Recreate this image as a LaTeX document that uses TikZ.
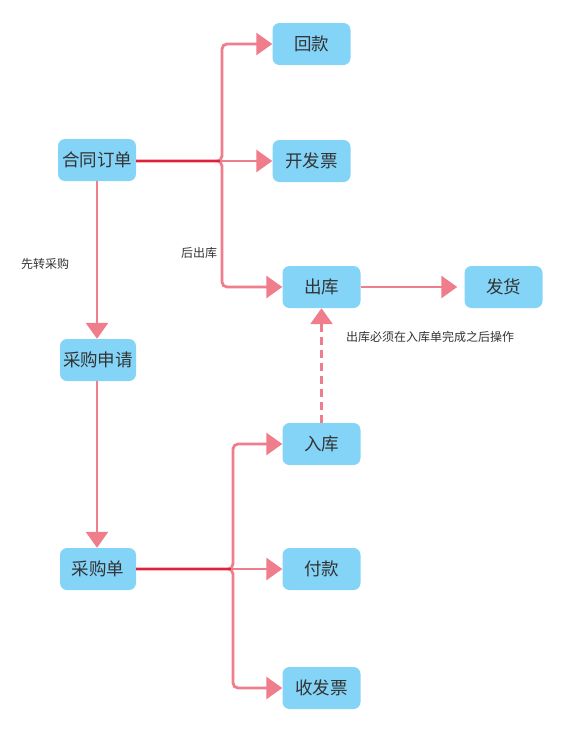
\documentclass[tikz,border=0pt]{standalone}
\usepackage{fontspec}
\newfontfamily\cjk{Noto Sans CJK SC}
\usetikzlibrary{arrows.meta}
\definecolor{boxblue}{HTML}{84D4F8}
\definecolor{pinkline}{HTML}{EF7D8B}
\definecolor{trunkred}{HTML}{E01F3D}
\definecolor{txt}{HTML}{333333}
\begin{document}
\begin{tikzpicture}[x=1pt,y=-1pt,
  box/.style={draw=none,fill=boxblue,rounded corners=7pt,minimum width=78pt,minimum height=42pt,inner sep=0pt,text=txt,font=\cjk\fontsize{17.5}{17.5}\selectfont},
  edge/.style={draw=pinkline,line width=2.8pt,rounded corners=5pt,-{Triangle[length=16pt,width=22pt]}},
  trunk/.style={draw=trunkred,line width=2.8pt},
  lbl/.style={text=txt,font=\cjk\fontsize{12}{12}\selectfont,inner sep=0pt}]
\useasboundingbox (0,0) rectangle (562,729);
% nodes
\node[box] (hetong) at (97,160) {合同订单};
\node[box] (huikuan) at (311.5,44) {回款};
\node[box] (kaifapiao) at (311.5,161) {开发票};
\node[box] (chuku) at (321.5,287) {出库};
\node[box] (fahuo) at (503.5,287) {发货};
\node[box,minimum width=76pt] (shenqing) at (98,360) {采购申请};
\node[box] (ruku) at (321.5,444) {入库};
\node[box,minimum width=76pt] (caigoudan) at (98,569) {采购单};
\node[box] (fukuan) at (321.5,569) {付款};
\node[box] (shoufapiao) at (321.5,688) {收发票};
% junctions
\coordinate (j1) at (222,161);
\coordinate (j2) at (233,569);
% edges from 合同订单
\draw[edge] (hetong.east |- j1) -- (j1) |- (huikuan.west);
\draw[edge] (hetong.east |- j1) -- (kaifapiao.west);
\draw[edge] (hetong.east |- j1) -- (j1) |- (chuku.west);
\draw[trunk] (hetong.east |- j1) -- ([xshift=-2pt]j1);
% edges from 采购单
\draw[edge] (caigoudan.east) -- (j2) |- (ruku.west);
\draw[edge] (caigoudan.east) -- (fukuan.west);
\draw[edge] (caigoudan.east) -- (j2) |- (shoufapiao.west);
\draw[trunk] (caigoudan.east) -- ([xshift=-2pt]j2);
% vertical
\draw[edge] (hetong.south -| 97,0) -- (shenqing.north -| 97,0);
\draw[edge] (shenqing.south -| 97,0) -- (caigoudan.north -| 97,0);
% 出库 -> 发货
\draw[edge,shorten >=7pt] (chuku.east) -- (fahuo.west);
% dashed
\draw[edge,dash pattern=on 8pt off 5pt] (ruku.north) -- (chuku.south);
% labels
\node[lbl] (l1) at (45,264) {先转采购};
\node[lbl] (l2) at (199,253) {后出库};
\node[lbl] (l3) at (430,337) {出库必须在入库单完成之后操作};
\end{tikzpicture}
\end{document}
